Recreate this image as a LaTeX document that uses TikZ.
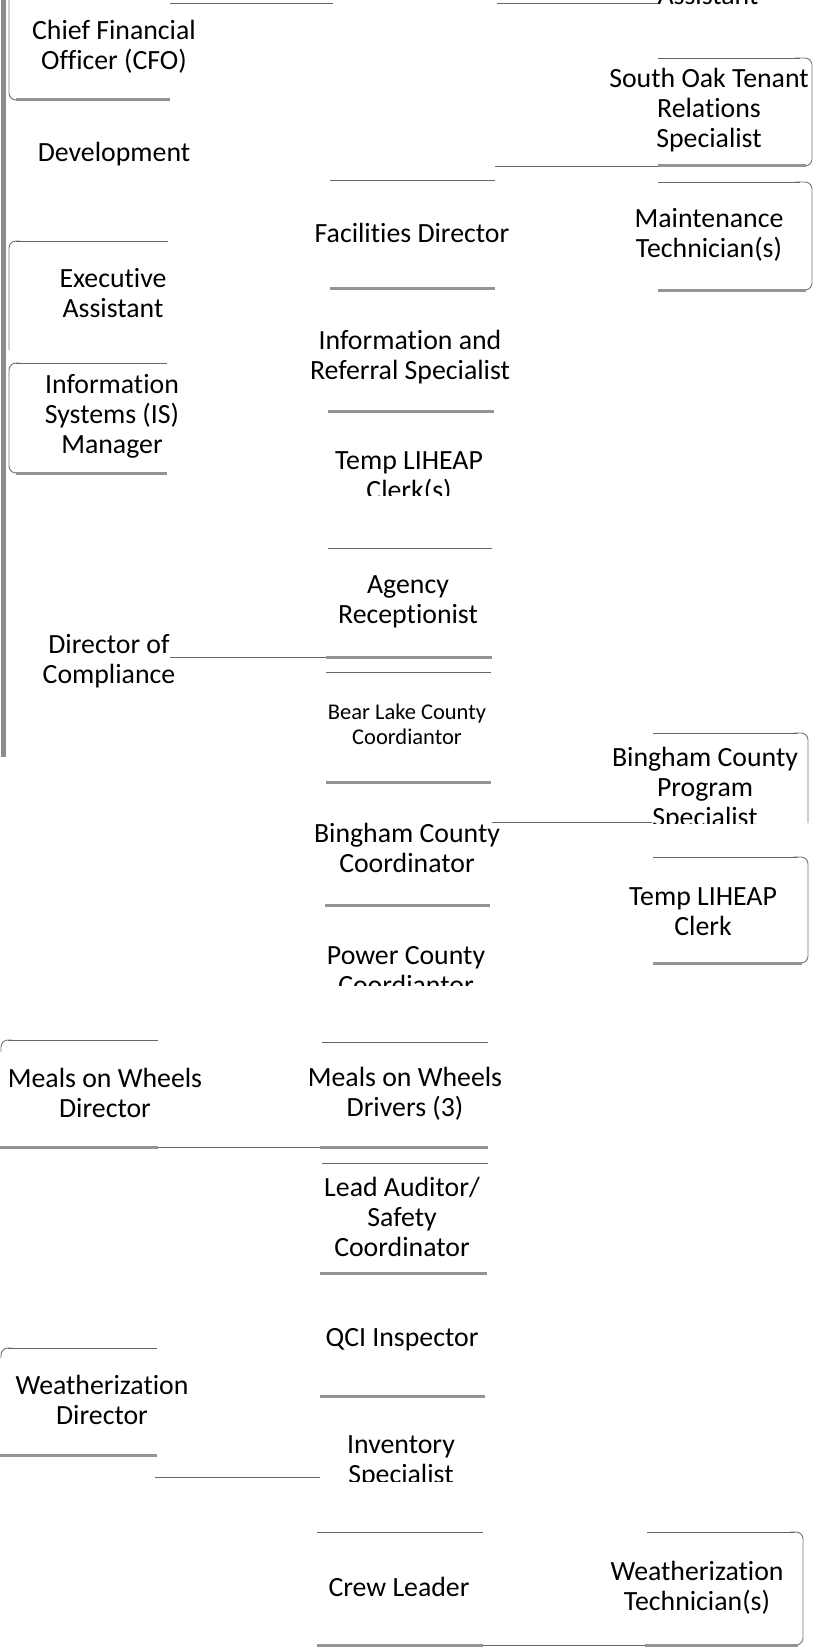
\documentclass[tikz,border=0pt]{standalone}
\usepackage{fontspec}
\setmainfont{Carlito}[Ligatures=NoCommon]
\begin{document}
\begin{tikzpicture}[x=1pt,y=-1pt,
  lbl/.style={font=\fontsize{27.8}{30}\selectfont, align=center, inner sep=0pt, text=black},
  smalllbl/.style={font=\fontsize{22.5}{25}\selectfont, align=center, inner sep=0pt, text=black},
  thinln/.style={draw=black!60, line width=0.8pt},
  thickln/.style={draw=black!42, line width=3pt},
  sideln/.style={draw=black!55, line width=0.9pt, rounded corners=7pt},
  outerln/.style={draw=black!45, line width=4.5pt}]
\useasboundingbox (0,0) rectangle (817,1648);
\clip (0,0) rectangle (817,1648);

% ---------- left column ----------
\draw[outerln] (3.5,0) -- (3.5,757);
% CFO box
\draw[sideln] (9,0) -- (9,100) -- (20,100);
\draw[thickln] (16,100) -- (170,100);
\node[lbl] (cfo) at (114,47) {Chief Financial\\Officer (CFO)};
\node[lbl] (dev) at (114,154) {Development};
% Executive Assistant box
\draw[sideln] (9,350) -- (9,241) -- (20,241);
\draw[thinln] (16,241) -- (168,241);
\node[lbl] (exec) at (113,293) {Executive\\Assistant};
% IS Manager box
\draw[sideln] (20,363) -- (9,363) -- (9,473) -- (20,473);
\draw[thinln] (16,363) -- (167,363);
\draw[thickln] (16,473) -- (167,473);
\node[lbl] (is) at (112,416) {Information\\Systems (IS)\\Manager};
% Director of Compliance
\node[lbl] (doc) at (109,661) {Director of\\Compliance};
\coordinate (docR) at (170,657);
% Meals on Wheels Director box
\draw[sideln] (1,1052) -- (1,1040) -- (12,1040);
\draw[thinln] (8,1040) -- (158,1040);
\draw[thickln] (0,1147) -- (158,1147);
\node[lbl] (mowd) at (105,1093) {Meals on Wheels\\Director};
\coordinate (mowdR) at (158,1147);
% Weatherization Director box
\draw[sideln] (1,1358) -- (1,1348) -- (12,1348);
\draw[thinln] (8,1348) -- (157,1348);
\draw[thickln] (0,1455) -- (157,1455);
\node[lbl] (wd) at (102,1400) {Weatherization\\Director};
\coordinate (wdR) at (155,1477);

% ---------- top strip ----------
\draw[thinln] (170,3) -- (333,3);
\draw[thinln] (497,3) -- (660,3);
\node[lbl, anchor=base] (asst) at (708,5) {Assistant};

% ---------- middle column ----------
\draw[thinln] (330,180) -- (495,180);
\node[lbl] (fac) at (412,233) {Facilities Director};
\draw[thickln] (330,288) -- (495,288);

\node[lbl] (iar) at (410,357) {Information and\\Referral Specialist};
\draw[thickln] (328,411) -- (494,411);

\begin{scope}
  \clip (300,430) rectangle (520,495);
  \node[lbl] (temp1) at (409,478) {Temp LIHEAP\\Clerk(s)};
\end{scope}

\draw[thinln] (328,548) -- (492,548);
\node[lbl] (agency) at (408,602) {Agency\\Receptionist};
\draw[thickln] (326,657) -- (492,657);
\coordinate (agencyL) at (326,657);
\draw[thinln] (docR) -- (agencyL);

\draw[thinln] (326,672) -- (491,672);
\node[smalllbl] (bear) at (407,724) {Bear Lake County\\Coordiantor};
\draw[thickln] (326,782) -- (491,782);

\node[lbl] (bingc) at (407,848) {Bingham County\\Coordinator};
\draw[thickln] (325,905) -- (490,905);
\coordinate (bingcR) at (492,822);

\begin{scope}
  \clip (300,930) rectangle (520,985);
  \node[lbl] (power) at (406,971) {Power County\\Coordiantor};
\end{scope}

\draw[thinln] (322,1042) -- (488,1042);
\node[lbl] (mowdr) at (405,1094) {Meals on Wheels\\Drivers (3)};
\coordinate (mowdrL) at (320,1147);
\draw[thinln] (mowdR) -- (mowdrL);
\draw[thickln] (mowdrL) -- (488,1147);

\draw[thinln] (322,1163) -- (488,1163);
\node[lbl] (lead) at (402,1217) {Lead Auditor/\\Safety\\Coordinator};
\draw[thickln] (320,1273) -- (487,1273);

\node[lbl] (qci) at (402,1340) {QCI Inspector};
\draw[thickln] (320,1396) -- (485,1396);

\begin{scope}
  \clip (300,1420) rectangle (520,1481);
  \node[lbl] (inv) at (401,1462) {Inventory\\Specialist};
\end{scope}
\coordinate (invL) at (320,1477);
\draw[thinln] (wdR) -- (invL);

\draw[thinln] (317,1532) -- (483,1532);
\node[lbl] (crew) at (399,1587) {Crew Leader};
\coordinate (crewR) at (483,1645);
\draw[thickln] (317,1645) -- (crewR);

% ---------- right column ----------
% South Oak box
\draw[thinln] (658,58) -- (800,58);
\draw[sideln] (795,58) -- (812,58) -- (812,166) -- (795,166);
\draw[thinln] (495,166) -- (658,166);
\draw[thickln] (658,166) -- (806,166);
\node[lbl] (soak) at (709,110) {South Oak Tenant\\Relations\\Specialist};
% Maintenance box
\draw[thinln] (658,182) -- (800,182);
\draw[sideln] (795,182) -- (812,182) -- (812,290) -- (795,290);
\draw[thickln] (658,290) -- (806,290);
\node[lbl] (maint) at (709,235) {Maintenance\\Technician(s)};

% Bingham County Program Specialist box
\draw[thinln] (653,733) -- (798,733);
\draw[sideln] (793,733) -- (808,733) -- (808,823);
\begin{scope}
  \clip (600,700) rectangle (810,823);
  \node[lbl] (bcps) at (705,789) {Bingham County\\Program\\Specialist};
\end{scope}
\coordinate (bcpsL) at (652,822);
\draw[thinln] (bingcR) -- (bcpsL);

% Temp LIHEAP Clerk box
\draw[thinln] (653,857) -- (798,857);
\draw[sideln] (793,857) -- (808,857) -- (808,963) -- (793,963);
\draw[thickln] (653,963) -- (802,963);
\node[lbl] (tlc) at (703,912) {Temp LIHEAP\\Clerk};

% Weatherization Technician box
\draw[thinln] (647,1532) -- (795,1532);
\draw[sideln] (790,1532) -- (803,1532) -- (803,1645) -- (790,1645);
\coordinate (wtechL) at (645,1645);
\draw[thinln] (crewR) -- (wtechL);
\draw[thickln] (wtechL) -- (798,1645);
\node[lbl] (wtech) at (697,1588) {Weatherization\\Technician(s)};
\end{tikzpicture}
\end{document}
